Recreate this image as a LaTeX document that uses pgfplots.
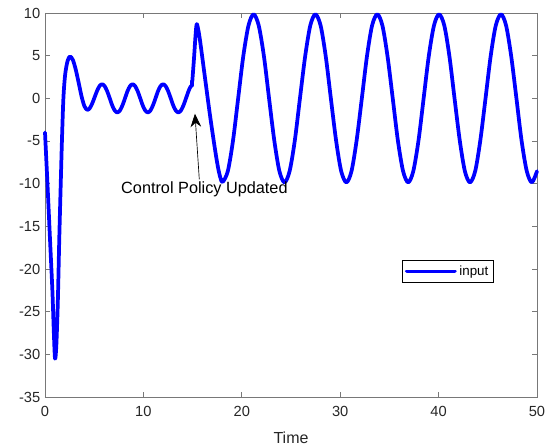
\documentclass[border=0pt]{standalone}
\usepackage{pgfplots}
\pgfplotsset{compat=1.18}
\usepackage{fontspec}
\setmainfont{Liberation Sans}
\usetikzlibrary{arrows.meta}

\definecolor{axgray}{RGB}{120,120,120}
\definecolor{lblgray}{RGB}{38,38,38}

\begin{document}
\begin{tikzpicture}
\path[use as bounding box] (-33.75pt,-36.75pt) rectangle (381.75pt,297.75pt);
\begin{axis}[
  at={(0,0)}, anchor=south west,
  scale only axis, width=369pt, height=288pt,
  xmin=0, xmax=50, ymin=-35, ymax=10,
  xtick={0,10,...,50}, ytick={-35,-30,...,10},
  tick align=inside, tick pos=both, major tick length=3.7pt,
  axis line style={axgray, line width=0.6pt},
  tick style={axgray, line width=0.6pt},
  ticklabel style={font=\fontsize{11}{13}\selectfont, text=lblgray},
  xticklabel style={yshift=-3.5pt},
  /pgf/number format/assume math mode=true,
  xlabel={Time},
  xlabel style={font=\fontsize{12}{14}\selectfont, text=lblgray, yshift=-4.5pt},
  clip=false,
  legend style={at={(0.7256,0.357)}, anchor=north west, draw=black,
    line width=0.5pt, font=\fontsize{10}{12}\selectfont, inner sep=2pt,
    legend cell align=left},
  legend image code/.code={\draw[#1] (0pt,0pt) -- (36pt,0pt);},
]
\addplot[blue, line width=2.8pt, smooth, line join=round, line cap=round] coordinates {
(0,-4.0) (0.25,-10.0) (0.5,-16.3) (0.75,-22.5) (0.9,-27.5) (1.02,-30.5)
(1.15,-29.0) (1.3,-24.0) (1.45,-16.5) (1.6,-10.0) (1.72,-5.0) (1.87,0.0)
(2.05,2.8) (2.3,4.4) (2.55,4.9) (2.84,4.48) (3.13,3.34) (3.43,1.78)
(3.72,0.21) (4.01,-0.93) (4.3,-1.35) (4.55,-1.15) (4.8,-0.6) (5.05,0.15)
(5.3,0.9) (5.55,1.45) (5.8,1.65) (6.06,1.43) (6.32,0.83) (6.58,0)
(6.83,-0.83) (7.09,-1.43) (7.35,-1.65) (7.61,-1.43) (7.87,-0.83) (8.13,0)
(8.38,0.83) (8.64,1.43) (8.9,1.65) (9.16,1.43) (9.42,0.83) (9.68,0)
(9.93,-0.83) (10.19,-1.43) (10.45,-1.65) (10.71,-1.43) (10.97,-0.83) (11.23,0)
(11.48,0.83) (11.74,1.43) (12.0,1.65) (12.26,1.43) (12.52,0.83) (12.78,0)
(13.03,-0.83) (13.29,-1.43) (13.55,-1.65) (13.81,-1.43) (14.07,-0.83) (14.33,0)
(14.58,0.83) (14.8,1.38) (14.97,1.55)
};
\addlegendentry{input}
\addplot[blue, line width=2.8pt, line join=round, line cap=round, forget plot]
  coordinates {(14.97,1.55) (14.97,2.0)};
\addplot[blue, line width=2.8pt, smooth, line join=round, line cap=round, forget plot] coordinates {
(14.97,2.0) (15.15,4.8) (15.3,7.4) (15.42,8.7) (15.6,7.9) (15.8,6.4)
(16.26,2.4) (16.77,-2.0) (17.28,-6.0) (17.6,-8.2) (17.85,-9.4)
(18.06,-9.8) (18.58,-8.53) (19.11,-4.93) (19.63,0) (20.15,4.93) (20.68,8.53)
(21.20,9.85) (21.72,8.53) (22.25,4.93) (22.77,0) (23.30,-4.93) (23.82,-8.53)
(24.34,-9.85) (24.86,-8.53) (25.39,-4.93) (25.91,0) (26.44,4.93) (26.96,8.53)
(27.48,9.85) (28.01,8.53) (28.53,4.93) (29.05,0) (29.58,-4.93) (30.10,-8.53)
(30.63,-9.85) (31.15,-8.53) (31.67,-4.93) (32.20,0) (32.72,4.93) (33.24,8.53)
(33.77,9.85) (34.29,8.53) (34.81,4.93) (35.34,0) (35.86,-4.93) (36.39,-8.53)
(36.91,-9.85) (37.43,-8.53) (37.96,-4.93) (38.48,0) (39.00,4.93) (39.53,8.53)
(40.05,9.85) (40.58,8.53) (41.10,4.93) (41.62,0) (42.15,-4.93) (42.67,-8.53)
(43.19,-9.85) (43.72,-8.53) (44.24,-4.93) (44.77,0) (45.29,4.93) (45.81,8.53)
(46.34,9.85) (46.86,8.53) (47.38,4.93) (47.91,0) (48.43,-4.93) (48.96,-8.53)
(49.48,-9.85) (50.0,-8.54)
};
\draw[-{Stealth[length=10pt,width=8pt]}, line width=0.5pt, black]
  (axis cs:15.68,-9.5) -- (axis cs:15.24,-1.8);
\node[font=\fontsize{12.2}{14}\selectfont, text=black] at (axis cs:16.2,-10.65) {Control Policy Updated};
\end{axis}
\end{tikzpicture}
\end{document}
